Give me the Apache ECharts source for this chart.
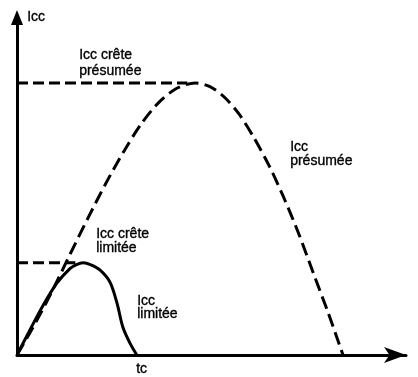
<!DOCTYPE html>
<html>
<head>
<meta charset="utf-8">
<script src="https://cdn.jsdelivr.net/npm/echarts@6/dist/echarts.min.js"></script>
<style>
  html, body { margin: 0; padding: 0; background: #fff; }
  #chart { width: 418px; height: 377px; }
</style>
</head>
<body>
<div id="chart"></div>
<script>
// Prospective short-circuit current (dashed) – time / current, arbitrary units
const presumeeT = [0, 4.6, 9.2, 13.7, 18.3, 22.9, 27.5, 32.0, 36.6, 41.2, 45.8, 49.6, 53.4, 57.2, 60.9, 64.8, 68.6, 72.4, 76.2, 80.0, 83.8];
const presumeeI = [0, 9.2, 19.3, 30.0, 40.7, 51.0, 60.4, 68.6, 75.0, 79.1, 80.6, 79.5, 76.3, 71.2, 64.4, 56.1, 46.6, 36.0, 24.2, 12.5, 0];

// Current limited by the protective device (solid)
const limiteeT = [0, 3.4, 6.8, 10.2, 13.6, 15.3, 17.0, 19.0, 21.3, 23.9, 25.7, 27.2, 29.0, 30.8];
const limiteeI = [0, 7.6, 14.9, 21.2, 25.6, 26.8, 27.3, 26.7, 25.2, 21.6, 15.4, 8.3, 3.6, 0];

// Text labels
const axisNameY = 'Icc';
const axisNameX = 'tc';
const labelCretePresumee = 'Icc crête\nprésumée';
const labelPresumee = 'Icc\nprésumée';
const labelCreteLimitee = 'Icc crête\nlimitée';
const labelLimitee = 'Icc\nlimitée';

function pairs(xs, ys) { return xs.map((x, i) => [x, ys[i]]); }
function peak(xs, ys) {
  let k = 0;
  ys.forEach((v, i) => { if (v > ys[k]) k = i; });
  return [xs[k], ys[k]];
}

const pkP = peak(presumeeT, presumeeI);
const pkL = peak(limiteeT, limiteeI);

const FONT = '"Liberation Sans", Arial, Helvetica, sans-serif';
const txt = (text, left, top, lh) => ({
  type: 'text', left: left, top: top,
  style: { text: text, fill: '#000', stroke: '#000', lineWidth: 0.35,
    fontSize: 14, fontFamily: FONT, lineHeight: lh }
});

const chart = echarts.init(document.getElementById('chart'), null, { renderer: 'canvas' });
chart.setOption({
  animation: false,
  backgroundColor: '#fff',
  grid: { left: 17, right: 12, top: 17.5, bottom: 22, containLabel: false },
  xAxis: {
    type: 'value', min: 0, max: 100,
    axisLine: { show: true, symbol: ['none', 'arrow'], symbolSize: [12, 22],
      lineStyle: { color: '#000', width: 3 } },
    axisTick: { show: false }, axisLabel: { show: false }, splitLine: { show: false }
  },
  yAxis: {
    type: 'value', min: 0, max: 100,
    axisLine: { show: true, symbol: ['none', 'triangle'], symbolSize: [12, 15],
      lineStyle: { color: '#000', width: 3 } },
    axisTick: { show: false }, axisLabel: { show: false }, splitLine: { show: false }
  },
  series: [
    {
      type: 'line', data: pairs(presumeeT, presumeeI), showSymbol: false, smooth: 0.3,
      lineStyle: { color: '#000', width: 3, type: [13, 6] }, z: 3
    },
    {
      type: 'line', data: pairs(limiteeT, limiteeI), showSymbol: false, smooth: 0.3,
      lineStyle: { color: '#000', width: 3 }, z: 4
    },
    {
      type: 'line', data: [[0, pkP[1]], [pkP[0] - 2, pkP[1]]], showSymbol: false,
      lineStyle: { color: '#000', width: 3, type: [11, 5] }, z: 2
    },
    {
      type: 'line', data: [[0, pkL[1]], [pkL[0] - 2, pkL[1]]], showSymbol: false,
      lineStyle: { color: '#000', width: 3, type: [11, 5] }, z: 2
    }
  ],
  graphic: [
    txt(axisNameY, 27, 10, 14),
    txt(labelCretePresumee, 79, 47, 16),
    txt(labelPresumee, 290, 140, 14),
    txt(labelCreteLimitee, 96, 227, 14),
    txt(labelLimitee, 137, 294, 12.5),
    txt(axisNameX, 136, 362, 14)
  ]
});
</script>
</body>
</html>
